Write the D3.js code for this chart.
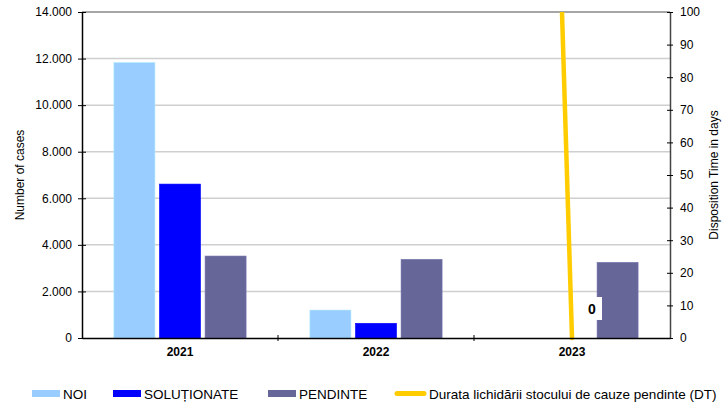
<!DOCTYPE html>
<html>
<head>
<meta charset="utf-8">
<script src="https://cdn.jsdelivr.net/npm/d3@7"></script>
<style>
  body { margin: 0; background: #fff; }
  svg { font-family: "Liberation Sans", Arial, sans-serif; }
</style>
</head>
<body>
<div id="chart"></div>
<script>
// data
var years = ["2021", "2022", "2023"];
var noi = [11830, 1200, 0];
var solutionate = [6610, 630, 0];
var pendinte = [3520, 3380, 3250];
var dt = [194, 1958, 0];
var leftTicks = [0, 2000, 4000, 6000, 8000, 10000, 12000, 14000];
var rightTicks = [0, 10, 20, 30, 40, 50, 60, 70, 80, 90, 100];

var seriesNames = ["NOI", "SOLUȚIONATE", "PENDINTE"];
var seriesColors = ["#99ccff", "#0000ff", "#666699"];
var lineName = "Durata lichidării stocului de cauze pendinte (DT)";
var lineColor = "#ffcc00";

var w = 724, h = 406;
var mLeft = 82, mRight = 670, mTop = 12, mBottom = 338;

var svg = d3.select("#chart").append("svg")
  .attr("width", w)
  .attr("height", h);

var x = d3.scaleBand().domain(years).range([mLeft, mRight]);
var xs = d3.scaleBand().domain([0, 1, 2]).range([0, x.bandwidth()]).paddingOuter(0.7).paddingInner(0.1);
var y = d3.scaleLinear().domain([0, 14000]).range([mBottom, mTop]);
var y2 = d3.scaleLinear().domain([0, 100]).range([mBottom, mTop]);

// gridlines
svg.append("g").selectAll("line")
  .data(leftTicks.slice(1))
  .enter().append("line")
  .attr("x1", mLeft).attr("x2", mRight)
  .attr("y1", function(d) { return y(d); })
  .attr("y2", function(d) { return y(d); })
  .attr("stroke", function(d) { return d === 14000 ? "#888" : "#cfcfcf"; })
  .attr("stroke-width", 1.5);

// bars
var series = [noi, solutionate, pendinte];
series.forEach(function(vals, s) {
  svg.append("g").selectAll("rect")
    .data(vals)
    .enter().append("rect")
    .attr("x", function(d, i) { return x(years[i]) + xs(s); })
    .attr("y", function(d) { return y(d); })
    .attr("width", xs.bandwidth())
    .attr("height", function(d) { return mBottom - y(d); })
    .attr("fill", seriesColors[s])
    .attr("stroke", d3.color(seriesColors[s]).brighter(0.4))
    .attr("stroke-width", 0.6);
});

// DT line, clipped to plot area
svg.append("clipPath").attr("id", "clip")
  .append("rect").attr("x", mLeft).attr("y", mTop).attr("width", mRight - mLeft).attr("height", mBottom - mTop + 4);

var line = d3.line()
  .x(function(d, i) { return x(years[i]) + x.bandwidth() / 2; })
  .y(function(d) { return y2(d); });

svg.append("path")
  .datum(dt)
  .attr("clip-path", "url(#clip)")
  .attr("d", line)
  .attr("fill", "none")
  .attr("stroke", lineColor)
  .attr("stroke-width", 4.5)
  .attr("stroke-linecap", "round");

// data label for last point
var lx = x(years[2]) + x.bandwidth() / 2 + 20;
var ly = y2(dt[2]) - 29;
svg.append("rect")
  .attr("x", lx - 7).attr("y", ly - 12)
  .attr("width", 17).attr("height", 23)
  .attr("fill", "#fff");
svg.append("text")
  .attr("x", lx).attr("y", ly + 5)
  .attr("text-anchor", "middle")
  .attr("font-size", 14)
  .attr("font-weight", "bold")
  .text(dt[2]);

// axes
var fmt = function(d) { return d3.format(",")(d).replace(/,/g, "."); };

var yAxis = svg.append("g")
  .attr("transform", "translate(" + mLeft + ",0)")
  .call(d3.axisLeft(y).tickValues(leftTicks).tickFormat(fmt).tickSizeInner(4).tickSizeOuter(0).tickPadding(6));
yAxis.selectAll(".tick line").attr("x2", 4).attr("x1", -4);
yAxis.select(".domain").attr("stroke-width", 1.5);
yAxis.selectAll("text").attr("font-size", 12);

var y2Axis = svg.append("g")
  .attr("transform", "translate(" + mRight + ",0)")
  .call(d3.axisRight(y2).tickValues(rightTicks).tickSizeInner(3).tickSizeOuter(0).tickPadding(7));
y2Axis.selectAll(".tick line").attr("x1", -3).attr("x2", 3);
y2Axis.select(".domain").attr("stroke", "#444").attr("stroke-width", 1.5);
y2Axis.selectAll("text").attr("font-size", 12);

var xAxis = svg.append("g")
  .attr("transform", "translate(0," + mBottom + ")")
  .call(d3.axisBottom(x).tickSize(0).tickPadding(9));
xAxis.select(".domain").attr("stroke-width", 1.5);
xAxis.selectAll("text").attr("font-weight", "bold").attr("font-size", 12);
xAxis.selectAll(".sep")
  .data(years.slice(1))
  .enter().append("line")
  .attr("class", "sep")
  .attr("x1", function(d) { return x(d); })
  .attr("x2", function(d) { return x(d); })
  .attr("y1", -3).attr("y2", 3)
  .attr("stroke", "#000");

svg.selectAll(".tick text").attr("fill", "#000");

// axis titles
svg.append("text")
  .attr("transform", "translate(24," + (mTop + mBottom) / 2 + ") rotate(-90)")
  .attr("text-anchor", "middle")
  .attr("font-size", 12)
  .text("Number of cases");

svg.append("text")
  .attr("transform", "translate(718," + (mTop + mBottom) / 2 + ") rotate(-90)")
  .attr("text-anchor", "middle")
  .attr("font-size", 12)
  .text("Disposition Time in days");

// legend
var legendX = [32, 113, 268, 394];
var lg = svg.append("g");
seriesNames.forEach(function(name, i) {
  lg.append("rect")
    .attr("x", legendX[i]).attr("y", 390)
    .attr("width", 28).attr("height", 7)
    .attr("fill", seriesColors[i]);
  lg.append("text")
    .attr("x", legendX[i] + 31).attr("y", 399)
    .attr("font-size", 13.5)
    .text(name);
});
lg.append("line")
  .attr("x1", legendX[3] + 3).attr("x2", legendX[3] + 30)
  .attr("y1", 393.5).attr("y2", 393.5)
  .attr("stroke", lineColor)
  .attr("stroke-width", 5)
  .attr("stroke-linecap", "round");
lg.append("text")
  .attr("x", legendX[3] + 35).attr("y", 399)
  .attr("font-size", 13.5)
  .text(lineName);
</script>
</body>
</html>
